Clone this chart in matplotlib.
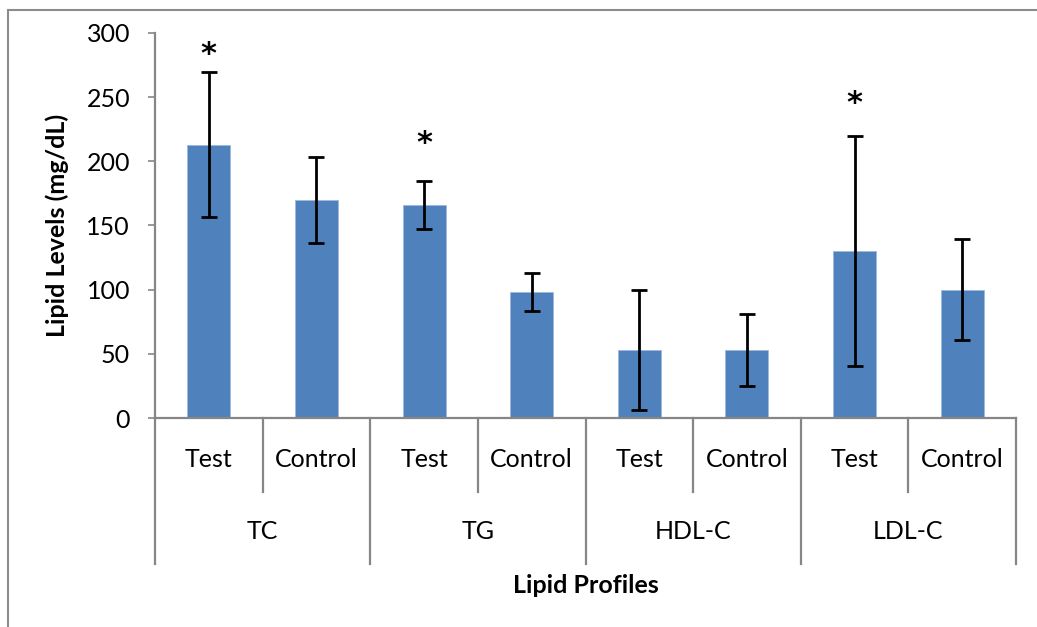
import matplotlib
matplotlib.use("Agg")
import matplotlib.pyplot as plt
from matplotlib.patches import Rectangle
import numpy as np

plt.rcParams['font.family'] = ['Lato', 'DejaVu Sans']

groups = ["TC", "TG", "HDL-C", "LDL-C"]
subgroups = ["Test", "Control"]
means = [213, 170, 166, 98, 53, 53, 130, 100]
errors = [56.5, 33.5, 19, 15, 47, 28, 89.5, 39.5]
star_idx = [0, 2, 6]
star_y = [283, 214, 245]
yticks = [0, 50, 100, 150, 200, 250, 300]

W, H = 1037, 627
fig = plt.figure(figsize=(W / 100, H / 100), dpi=100)
ax = fig.add_axes([155 / W, 1 - 418 / H, (1016 - 155) / W, (418 - 33) / H])

gray = '#868686'
fs = 18
x = np.arange(len(means))
ax.bar(x, means, width=0.4, color='#4F81BD', edgecolor='#9DB9DF', linewidth=0.6, zorder=2)
ax.errorbar(x, means, yerr=errors, fmt='none', ecolor='black', elinewidth=2,
            capsize=5.5, capthick=2, zorder=3)
for i, yy in zip(star_idx, star_y):
    ax.text(x[i], yy, '*', ha='center', va='center', fontsize=22, fontweight='bold',
            family='DejaVu Sans')

ax.set_xlim(-0.5, len(means) - 0.5)
ax.set_ylim(0, 300)
ax.set_yticks(yticks)
ax.tick_params(axis='y', labelsize=fs, length=5, width=1.2, color=gray, pad=13)
ax.set_xticks([])
for s in ['top', 'right']:
    ax.spines[s].set_visible(False)
for s in ['left', 'bottom']:
    ax.spines[s].set_color(gray)
    ax.spines[s].set_linewidth(1.6)

trans = ax.get_xaxis_transform()
# sub-category separators
for b in np.arange(0.5, len(means), 2):
    ax.plot([b, b], [0, -0.192], transform=trans, color=gray, lw=1.6, clip_on=False)
# group separators
for b in np.arange(-0.5, len(means) + 0.5, 2):
    ax.plot([b, b], [0, -0.379], transform=trans, color=gray, lw=1.6, clip_on=False)

for i in x:
    ax.text(i, -0.109, subgroups[i % 2], transform=trans, ha='center', va='center', fontsize=fs)
for g, name in enumerate(groups):
    ax.text(2 * g + 0.5, -0.296, name, transform=trans, ha='center', va='center', fontsize=fs)

ax.text(0.5, -0.436, 'Lipid Profiles', transform=ax.transAxes, ha='center', va='center',
        fontsize=fs, fontweight='bold')
fig.text(57 / W, 1 - 225 / H, 'Lipid Levels (mg/dL)', rotation=90, ha='center', va='center',
         fontsize=fs, fontweight='bold')

fig.patches.append(Rectangle((8 / W, -0.05), 1.1, 1.05 - 10 / H, transform=fig.transFigure,
                             fill=False, edgecolor='#8C8C8C', linewidth=1.5))

fig.savefig('out.png', dpi=100)
